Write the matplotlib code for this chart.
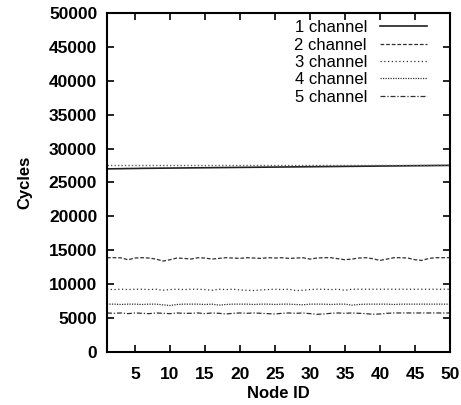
import numpy as np
import matplotlib.pyplot as plt

plt.rcParams['font.family'] = ['Liberation Sans', 'DejaVu Sans']

node = list(range(1, 51))

ch1 = [27000, 27020, 27030, 27050, 27060, 27080, 27090, 27100, 27110, 27120,
       27130, 27140, 27150, 27160, 27170, 27180, 27190, 27200, 27210, 27220,
       27230, 27240, 27250, 27260, 27270, 27280, 27290, 27300, 27310, 27320,
       27330, 27340, 27350, 27360, 27370, 27380, 27390, 27400, 27410, 27420,
       27430, 27440, 27450, 27460, 27470, 27480, 27490, 27500, 27510, 27520]
ch1_ref = [27550] * 50
ch2 = [13900, 13900, 13880, 13600, 13850, 13900, 13850, 13700, 13400, 13600,
       13850, 13800, 13700, 13900, 13850, 13700, 13800, 13900, 13850, 13800,
       13900, 13850, 13800, 13900, 13850, 13900, 13800, 13850, 13900, 13700,
       13850, 13900, 13900, 13750, 13600, 13700, 13850, 13900, 13750, 13500,
       13700, 13900, 13900, 13850, 13600, 13500, 13800, 13900, 13900, 13900]
ch3 = [9250, 9200, 9250, 9200, 9250, 9250, 9200, 9250, 9100, 9200,
       9250, 9200, 9250, 9250, 9200, 9100, 9250, 9200, 9250, 9150,
       9100, 9050, 9150, 9200, 9250, 9200, 9250, 9050, 9100, 9200,
       9250, 9250, 9200, 9250, 9100, 9250, 9250, 9250, 9250, 9250,
       9250, 9250, 9250, 9250, 9250, 9250, 9250, 9250, 9250, 9250]
ch4 = [7050, 7050, 7000, 7050, 7050, 7000, 7050, 7050, 6950, 6850,
       7000, 7050, 7050, 7050, 7000, 7050, 6900, 7000, 7050, 7050,
       7050, 7000, 7050, 7050, 7000, 7050, 7050, 7000, 6950, 7050,
       7050, 7050, 7000, 7050, 7050, 6900, 7000, 7050, 7050, 7050,
       7050, 7000, 7050, 7050, 7050, 7050, 7050, 7050, 7050, 7050]
ch5 = [5750, 5700, 5750, 5650, 5750, 5700, 5650, 5750, 5700, 5650,
       5750, 5700, 5700, 5750, 5650, 5750, 5700, 5600, 5700, 5750,
       5700, 5750, 5700, 5650, 5600, 5700, 5750, 5700, 5750, 5650,
       5550, 5600, 5700, 5750, 5700, 5750, 5700, 5650, 5550, 5600,
       5700, 5750, 5750, 5750, 5750, 5750, 5750, 5750, 5750, 5750]

fig = plt.figure(figsize=(4.61, 4.05), dpi=100)
ax = fig.add_axes([0.232, 0.131, 0.744, 0.837])

ax.plot(node, ch1, color='#202020', lw=1.2, ls='-', label='1 channel')
ax.plot(node, ch2, color='#303030', lw=0.9, ls=(0, (3, 1.5)), label='2 channel')
ax.plot(node, ch3, color='#303030', lw=0.9, ls=(0, (1, 2)), label='3 channel')
ax.plot(node, ch4, color='#303030', lw=0.9, ls=(0, (1, 1)), label='4 channel')
ax.plot(node, ch5, color='#303030', lw=0.9, ls=(0, (4, 1.5, 1, 1.5)), label='5 channel')
ax.plot(node, ch1_ref, color='#606060', lw=1.0, ls=(0, (1, 1.5)))

ax.set_xlim(1, 50)
ax.set_ylim(0, 50000)
ax.set_xticks(range(5, 51, 5))
ax.set_yticks(range(0, 50001, 5000))
ax.tick_params(direction='in', top=True, right=True, length=5, width=1.2,
               labelsize=12.5, pad=7)
ax.tick_params(axis='x', pad=11)
for lbl in ax.get_xticklabels() + ax.get_yticklabels():
    lbl.set_fontweight('bold')
for s in ax.spines.values():
    s.set_linewidth(1.5)

ax.set_xlabel('Node ID', fontsize=12, fontweight='bold', labelpad=3)
ax.set_ylabel('Cycles', fontsize=12, fontweight='bold', labelpad=12)

ax.legend(loc='upper right', bbox_to_anchor=(0.962, 1.008), frameon=False,
          markerfirst=False, fontsize=12, handlelength=2.8,
          labelspacing=0.14, borderaxespad=0.3, handletextpad=0.8,
          borderpad=0.3)

fig.savefig('out.png', dpi=100)
